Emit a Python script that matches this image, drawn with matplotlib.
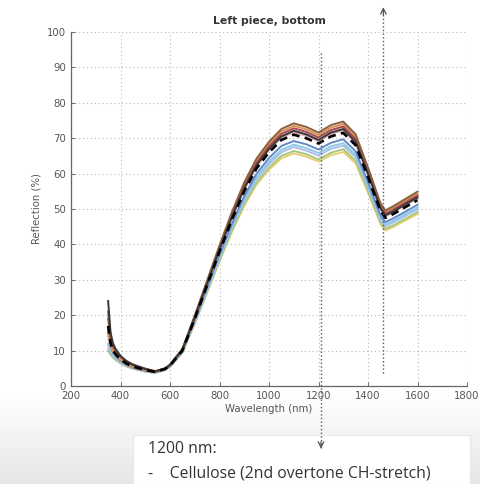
import numpy as np
import matplotlib
matplotlib.use("Agg")
import matplotlib.pyplot as plt

wavelength = [350, 360, 370, 380, 400, 425, 450, 500, 540, 580, 600, 650, 700, 750, 800, 850,
              900, 950, 1000, 1050, 1100, 1150, 1200, 1250, 1300, 1350, 1400, 1450, 1470, 1500,
              1550, 1600]

brown = [21, 14, 11.5, 10, 8.2, 6.8, 5.9, 4.7, 4.1, 5.0,
         6.1, 10.5, 19.9, 29.8, 39.7, 49.1, 57.5, 64.3, 69.0, 72.6, 74.2, 73.2, 71.6, 73.7, 74.7,
         71.1, 61.7, 51.7, 49.6, 50.7, 52.8, 54.9]
orange = [16, 11.5, 9.8, 8.8, 7.3, 6.1, 5.3, 4.4, 3.9, 4.8,
          6.0, 10.4, 19.7, 29.5, 39.3, 48.6, 56.9, 63.7, 68.3, 71.9, 73.5, 72.5, 70.9, 73.0, 74.0,
          70.4, 61.1, 51.2, 49.2, 50.2, 52.3, 54.3]
red = [19, 13.5, 11, 9.8, 8.3, 7, 6.1, 4.9, 4.2, 5.0,
       5.9, 10.3, 19.5, 29.2, 38.9, 48.2, 56.4, 63.0, 67.7, 71.2, 72.8, 71.8, 70.2, 72.3, 73.3,
       69.7, 60.5, 50.7, 48.7, 49.7, 51.8, 53.8]
pink = [14, 11, 9.8, 9, 7.8, 6.8, 6, 4.9, 4.2, 4.9,
        5.9, 10.1, 19.2, 28.8, 38.4, 47.5, 55.6, 62.1, 66.7, 70.2, 71.7, 70.7, 69.2, 71.2, 72.2,
        68.7, 59.6, 50.0, 48.0, 49.0, 51.0, 53.0]
black = [24, 15, 12, 10.5, 8.5, 7, 6, 4.8, 4.1, 4.9,
         5.9, 10.2, 19.3, 28.9, 38.6, 47.7, 55.8, 62.4, 67.0, 70.5, 72.1, 71.1, 69.5, 71.6, 72.6,
         69.0, 59.9, 50.2, 48.2, 49.2, 51.3, 53.3]
blue = [15, 11, 9.5, 8.5, 7.1, 6, 5.2, 4.3, 3.9, 4.7,
        5.7, 9.8, 18.5, 27.8, 37.1, 45.8, 53.6, 60.0, 64.4, 67.8, 69.2, 68.3, 66.8, 68.7, 69.7,
        66.3, 57.5, 48.3, 46.3, 47.3, 49.2, 51.2]
cyan = [12, 10, 8.8, 8, 6.8, 5.8, 5.1, 4.2, 3.8, 4.6,
        5.6, 9.6, 18.2, 27.4, 36.5, 45.1, 52.8, 59.0, 63.4, 66.7, 68.2, 67.2, 65.8, 67.7, 68.6,
        65.3, 56.6, 47.5, 45.6, 46.6, 48.5, 50.4]
lavender = [11.5, 9.5, 8.5, 7.8, 6.6, 5.6, 5, 4.2, 3.8, 4.6,
            5.5, 9.5, 18.1, 27.1, 36.1, 44.7, 52.3, 58.4, 62.7, 66.0, 67.5, 66.5, 65.1, 67.0, 67.9,
            64.6, 56.1, 47.0, 45.1, 46.1, 48.0, 49.9]
green = [10, 8.8, 8, 7.4, 6.4, 5.5, 4.9, 4.1, 3.7, 4.5,
         5.4, 9.4, 17.8, 26.6, 35.5, 43.9, 51.4, 57.5, 61.7, 65.0, 66.4, 65.5, 64.0, 65.9, 66.9,
         63.6, 55.2, 46.3, 44.4, 45.3, 47.2, 49.1]
yellow = [10.5, 9, 8.2, 7.5, 6.5, 5.6, 4.9, 4.1, 3.7, 4.5,
          5.4, 9.3, 17.6, 26.4, 35.2, 43.5, 50.9, 56.9, 61.1, 64.3, 65.7, 64.8, 63.4, 65.2, 66.1,
          62.9, 54.6, 45.8, 43.9, 44.9, 46.7, 48.6]
mean = [17, 12, 10, 9, 7.5, 6.3, 5.5, 4.5, 4.0, 4.8,
        5.8, 10, 19, 28.5, 38, 47, 55, 61.5, 66, 69.5, 71, 70, 68.5, 70.5, 71.5,
        68, 59, 49.5, 47.5, 48.5, 50.5, 52.5]

series = [
    (yellow, "#e8d070"), (green, "#a8c880"), (lavender, "#b0bce6"), (cyan, "#8ccbea"),
    (blue, "#6488c8"), (pink, "#e0a8b0"), (orange, "#d89050"), (red, "#a84850"),
    (brown, "#8a6040"), (black, "#383838"),
]

xticks = [200, 400, 600, 800, 1000, 1200, 1400, 1600, 1800]
yticks = [0, 10, 20, 30, 40, 50, 60, 70, 80, 90, 100]

W, H = 480, 484
fig = plt.figure(figsize=(W / 100, H / 100), dpi=100)

# background gradient (white top -> light gray bottom)
bg = fig.add_axes([0, 0, 1, 1], zorder=-10)
grad = np.ones((H, 1))
rows = np.arange(H)
grad[:, 0] = np.where(rows < 390, 1.0, 1.0 - 0.10 * np.clip((rows - 390) / 94, 0, 1))
bg.imshow(grad, cmap="gray", vmin=0, vmax=1, aspect="auto", extent=[0, 1, 0, 1], origin="upper")
bg.set_axis_off()

# white text box
box = fig.add_axes([133 / W, 0, (470 - 133) / W, (H - 435) / H], zorder=-5)
box.set_facecolor("white")
for s in box.spines.values():
    s.set_color("#e8e8e8")
    s.set_linewidth(0.8)
box.set_xticks([])
box.set_yticks([])

ax = fig.add_axes([71 / W, 1 - 386 / H, (467 - 71) / W, (386 - 32) / H])
ax.set_facecolor("none")
for vals, col in series:
    ax.plot(wavelength, vals, color=col, lw=1.4)
ax.plot(wavelength, mean, color="black", lw=1.9, ls=(0, (3, 2)))

ax.set_xlim(200, 1800)
ax.set_ylim(0, 100)
ax.set_xticks(xticks)
ax.set_yticks(yticks)
ax.tick_params(labelsize=7.3, colors="#555555", direction="in", length=3, width=0.6)
ax.grid(True, ls=(0, (1, 2.5)), color="#b8b8b8", lw=0.8)
for sp in ["top", "right"]:
    ax.spines[sp].set_visible(False)
for sp in ["left", "bottom"]:
    ax.spines[sp].set_color("#666666")
    ax.spines[sp].set_linewidth(0.9)
ax.set_xlabel("Wavelength (nm)", fontsize=7.3, color="#555555", labelpad=2)
ax.set_ylabel("Reflection (%)", fontsize=7.3, color="#555555", labelpad=4)
ax.set_title("Left piece, bottom", fontsize=7.8, fontweight="bold", color="#333333", pad=6)

# dotted arrows
ax.plot([1210, 1210], [94, -17.5], ls=":", color="#555555", lw=1.0, clip_on=False)
ax.annotate("", xy=(1210, -18.5), xytext=(1210, -15), xycoords="data",
            arrowprops=dict(arrowstyle="->", color="#555555", lw=0.9,
                            mutation_scale=10), annotation_clip=False)
ax.plot([1462, 1462], [3.7, 106.5], ls=":", color="#555555", lw=1.0, clip_on=False)
ax.annotate("", xy=(1462, 107.8), xytext=(1462, 104), xycoords="data",
            arrowprops=dict(arrowstyle="->", color="#555555", lw=0.9,
                            mutation_scale=10), annotation_clip=False)

fig.text(148 / W, 1 - 449 / H, "1200 nm:", fontsize=11.3, family="Open Sans",
         color="#333333", va="center", ha="left")
fig.text(148 / W, 1 - 474 / H, "-    Cellulose (2nd overtone CH-stretch)", fontsize=11.3,
         family="Open Sans", color="#333333", va="center", ha="left")

fig.savefig("out.png", dpi=100)
